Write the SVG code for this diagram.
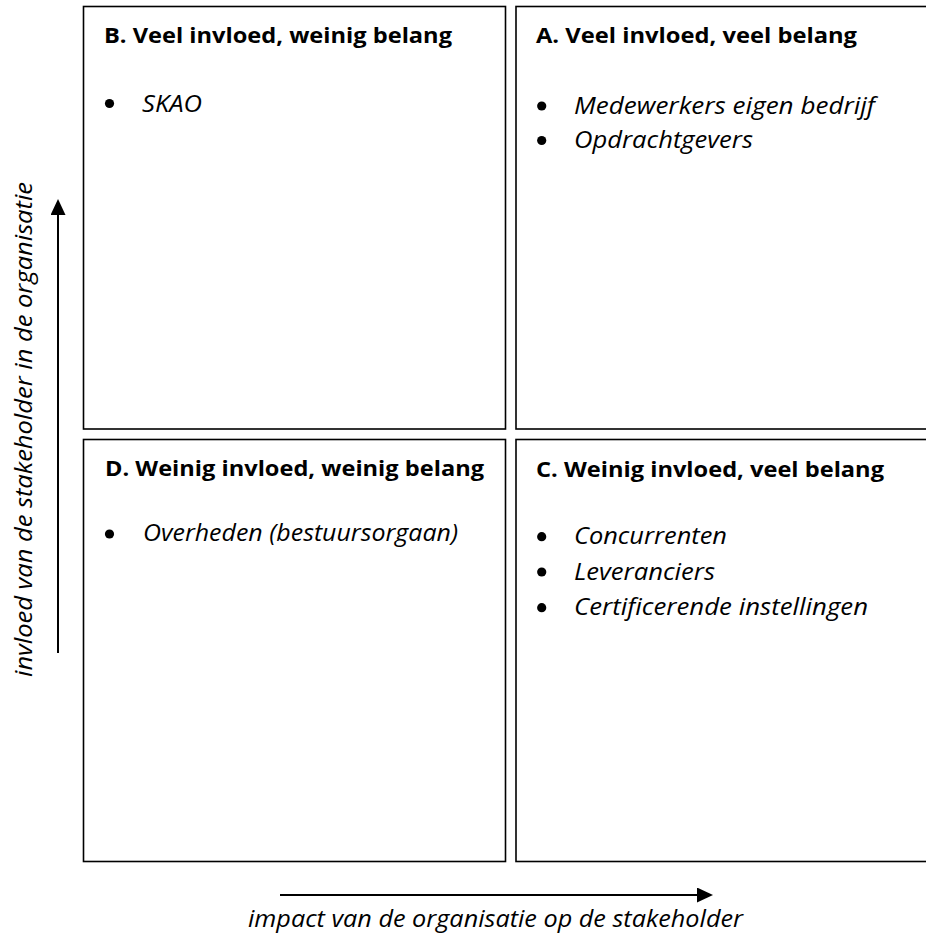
<svg xmlns="http://www.w3.org/2000/svg" width="926" height="934" viewBox="0 0 926 934">
<style>
.box{fill:none;stroke:#000;stroke-width:1.6}
.title{font-family:"Open Sans","Noto Sans","Liberation Sans",sans-serif;font-weight:bold;font-size:21.4px;fill:#000}
.item{font-family:"Open Sans","Noto Sans","Liberation Sans",sans-serif;font-style:italic;font-size:23px;fill:#000}
.bul{fill:#000}
.axis{font-family:"Open Sans","Noto Sans","Liberation Sans",sans-serif;font-style:italic;font-size:23.5px;fill:#000}
.arr{stroke:#000;stroke-width:2;fill:none}
</style>
<defs>
<marker id="ah" markerUnits="userSpaceOnUse" markerWidth="16" markerHeight="15" refX="0" refY="7.5" orient="auto">
<path d="M0,0 L16,7.5 L0,15 Z" fill="#000"/>
</marker>
</defs>
<rect width="926" height="934" fill="#fff"/>
<g id="quadB">
<rect class="box" x="83.5" y="6.5" width="422" height="422.5"/>
<text class="title" x="104" y="43" textLength="348" lengthAdjust="spacingAndGlyphs">B. Veel invloed, weinig belang</text>
<circle class="bul" cx="109.5" cy="103.5" r="4.6"/>
<text class="item" x="142" y="111.5" textLength="60" lengthAdjust="spacingAndGlyphs">SKAO</text>
</g>
<g id="quadA">
<rect class="box" x="516" y="6.5" width="430" height="422.5"/>
<text class="title" x="536" y="43" textLength="321" lengthAdjust="spacingAndGlyphs">A. Veel invloed, veel belang</text>
<circle class="bul" cx="541.7" cy="106" r="4.6"/>
<text class="item" x="574" y="113.5" textLength="301" lengthAdjust="spacingAndGlyphs">Medewerkers eigen bedrijf</text>
<circle class="bul" cx="541.7" cy="140.5" r="4.6"/>
<text class="item" x="574" y="147.5" textLength="179" lengthAdjust="spacingAndGlyphs">Opdrachtgevers</text>
</g>
<g id="quadD">
<rect class="box" x="83.5" y="439.5" width="422" height="422"/>
<text class="title" x="105" y="476" textLength="379" lengthAdjust="spacingAndGlyphs">D. Weinig invloed, weinig belang</text>
<circle class="bul" cx="109.5" cy="534" r="4.6"/>
<text class="item" x="143" y="541" textLength="315" lengthAdjust="spacingAndGlyphs">Overheden (bestuursorgaan)</text>
</g>
<g id="quadC">
<rect class="box" x="516" y="439.5" width="430" height="422"/>
<text class="title" x="536" y="476.5" textLength="348" lengthAdjust="spacingAndGlyphs">C. Weinig invloed, veel belang</text>
<circle class="bul" cx="541.7" cy="536.7" r="4.6"/>
<text class="item" x="574" y="544" textLength="153" lengthAdjust="spacingAndGlyphs">Concurrenten</text>
<circle class="bul" cx="541.7" cy="572" r="4.6"/>
<text class="item" x="574" y="579.5" textLength="141" lengthAdjust="spacingAndGlyphs">Leveranciers</text>
<circle class="bul" cx="541.7" cy="607.7" r="4.6"/>
<text class="item" x="574" y="615" textLength="294" lengthAdjust="spacingAndGlyphs">Certificerende instellingen</text>
</g>
<g id="connectors">
<line class="arr" x1="58" y1="653" x2="58" y2="215" marker-end="url(#ah)"/>
<line class="arr" x1="280" y1="895" x2="697" y2="895" marker-end="url(#ah)"/>
</g>
<g id="axisLabels">
<text class="axis" transform="translate(31.5,677) rotate(-90)" x="0" y="0" textLength="495" lengthAdjust="spacingAndGlyphs">invloed van de stakeholder in de organisatie</text>
<text class="axis" x="248" y="927" textLength="495" lengthAdjust="spacingAndGlyphs">impact van de organisatie op de stakeholder</text>
</g>
</svg>
